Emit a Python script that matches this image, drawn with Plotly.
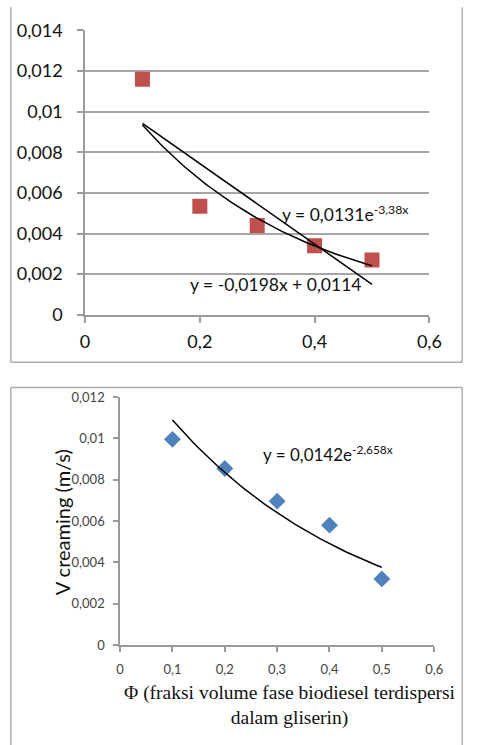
import numpy as np
import plotly.graph_objects as go

W, H = 479, 745

# ---- data: top chart ----
phi_top = [0.1, 0.2, 0.3, 0.4, 0.5]
v_top = [0.0116, 0.00535, 0.0044, 0.0034, 0.0027]
lin_coef = [-0.0198, 0.0114]          # y = a x + b
exp_top_coef = [0.0131, -3.38]        # y = A e^(k x)
top_xticks = [0, 0.2, 0.4, 0.6]
top_xtext = ["0", "0,2", "0,4", "0,6"]
top_yticks = [0, 0.002, 0.004, 0.006, 0.008, 0.01, 0.012, 0.014]
top_ytext = ["0", "0,002", "0,004", "0,006", "0,008", "0,01", "0,012", "0,014"]

# ---- data: bottom chart ----
phi_bot = [0.1, 0.2, 0.3, 0.4, 0.5]
v_bot = [0.00995, 0.00854, 0.00696, 0.0058, 0.0032]
exp_bot_coef = [0.0142, -2.658]
bot_xticks = [0, 0.1, 0.2, 0.3, 0.4, 0.5, 0.6]
bot_xtext = ["0", "0,1", "0,2", "0,3", "0,4", "0,5", "0,6"]
bot_yticks = [0, 0.002, 0.004, 0.006, 0.008, 0.01, 0.012]
bot_ytext = ["0", "0,002", "0,004", "0,006", "0,008", "0,01", "0,012"]


def px(x):
    return x / W


def py(y):
    return 1 - y / H


fig = go.Figure()

xt = np.linspace(min(phi_top), max(phi_top), 80)
fig.add_trace(go.Scatter(x=phi_top, y=v_top, mode="markers", xaxis="x", yaxis="y",
                         marker=dict(symbol="square", size=15, color="#C0504D"),
                         showlegend=False))
fig.add_trace(go.Scatter(x=xt, y=exp_top_coef[0] * np.exp(exp_top_coef[1] * xt), mode="lines",
                         xaxis="x", yaxis="y", line=dict(color="black", width=1.5), showlegend=False))
fig.add_trace(go.Scatter(x=xt, y=lin_coef[0] * xt + lin_coef[1], mode="lines",
                         xaxis="x", yaxis="y", line=dict(color="black", width=1.5), showlegend=False))

xb = np.linspace(min(phi_bot), max(phi_bot), 80)
fig.add_trace(go.Scatter(x=phi_bot, y=v_bot, mode="markers", xaxis="x2", yaxis="y2",
                         marker=dict(symbol="diamond", size=13, color="#4F81BD"),
                         showlegend=False))
fig.add_trace(go.Scatter(x=xb, y=exp_bot_coef[0] * np.exp(exp_bot_coef[1] * xb), mode="lines",
                         xaxis="x2", yaxis="y2", line=dict(color="black", width=1.5), showlegend=False))

axis_col = "#9a9a9a"
font_main = "Lato, 'Open Sans', sans-serif"

fig.update_layout(
    width=W, height=H,
    margin=dict(l=0, r=0, t=0, b=0),
    paper_bgcolor="white", plot_bgcolor="white",
    font=dict(family=font_main, color="#111"),
    xaxis=dict(domain=[px(83), px(440)], range=[0, 0.6], anchor="y",
               tickvals=top_xticks, ticktext=top_xtext,
               showgrid=False, zeroline=False, showline=True, linecolor=axis_col, linewidth=1.5,
               ticks="outside", ticklen=6, tickcolor=axis_col, tickwidth=1.5,
               ticklabelstandoff=4,
               tickfont=dict(size=18, color="#111"), fixedrange=True),
    yaxis=dict(domain=[py(312), py(19)], range=[0, 0.014], anchor="x",
               tickvals=top_yticks, ticktext=top_ytext,
               showgrid=True, gridcolor="#a6a6a6", gridwidth=1.5, zeroline=False,
               showline=True, linecolor=axis_col, linewidth=1.5,
               ticks="outside", ticklen=6, tickcolor=axis_col, tickwidth=1.5,
               ticklabelstandoff=11,
               tickfont=dict(size=18, color="#111"), fixedrange=True),
    xaxis2=dict(domain=[px(119.3), px(445)], range=[0, 0.6], anchor="y2",
                tickvals=bot_xticks, ticktext=bot_xtext,
                showgrid=False, zeroline=False, showline=True, linecolor=axis_col, linewidth=1.5,
                ticks="outside", ticklen=5, tickcolor=axis_col, tickwidth=1.5,
                ticklabelstandoff=7,
                tickfont=dict(size=13, color="#444"), fixedrange=True),
    yaxis2=dict(domain=[py(652.3), py(396.7)], range=[0, 0.012], anchor="x2",
                tickvals=bot_yticks, ticktext=bot_ytext,
                showgrid=False, zeroline=False, showline=True, linecolor=axis_col, linewidth=1.5,
                ticks="outside", ticklen=5, tickcolor=axis_col, tickwidth=1.5,
                ticklabelstandoff=6,
                tickfont=dict(size=13, color="#444"), fixedrange=True),
)

annos = [
    dict(x=px(285), y=py(208), text="y = 0,0131e<sup>-3,38x</sup>", font=dict(size=17.5)),
    dict(x=px(190), y=py(281), text="y = -0,0198x + 0,0114", font=dict(size=17.5)),
    dict(x=px(265), y=py(455), text="y = 0,0142e<sup>-2,658x</sup>", font=dict(size=17)),
]
for a in annos:
    fig.add_annotation(xref="paper", yref="paper", xanchor="left", yanchor="middle",
                       showarrow=False, **a)

fig.add_annotation(xref="paper", yref="paper", x=px(60), y=py(526), text="V creaming (m/s)",
                   textangle=-90, showarrow=False, xanchor="center", yanchor="middle",
                   font=dict(size=20, color="#111"))
fig.add_annotation(xref="paper", yref="paper", x=px(295), y=py(715),
                   text="Φ (fraksi volume fase biodiesel terdispersi<br>dalam gliserin)",
                   showarrow=False, xanchor="center", yanchor="middle", align="center",
                   font=dict(size=19.5, family="'Liberation Serif', 'Times New Roman', serif", color="#111"))

border = dict(color="#b0b0b0", width=1.5)
lines = [
    (6, -5, 6, 361), (6, 361, 474, 361), (474, -5, 474, 361),
    (6, 387, 474, 387), (6, 387, 6, 760), (474, 387, 474, 760),
]
for x0, y0, x1, y1 in lines:
    fig.add_shape(type="line", xref="paper", yref="paper",
                  x0=px(x0), y0=py(y0), x1=px(x1), y1=py(y1), line=border)

fig.write_html("out.html")
